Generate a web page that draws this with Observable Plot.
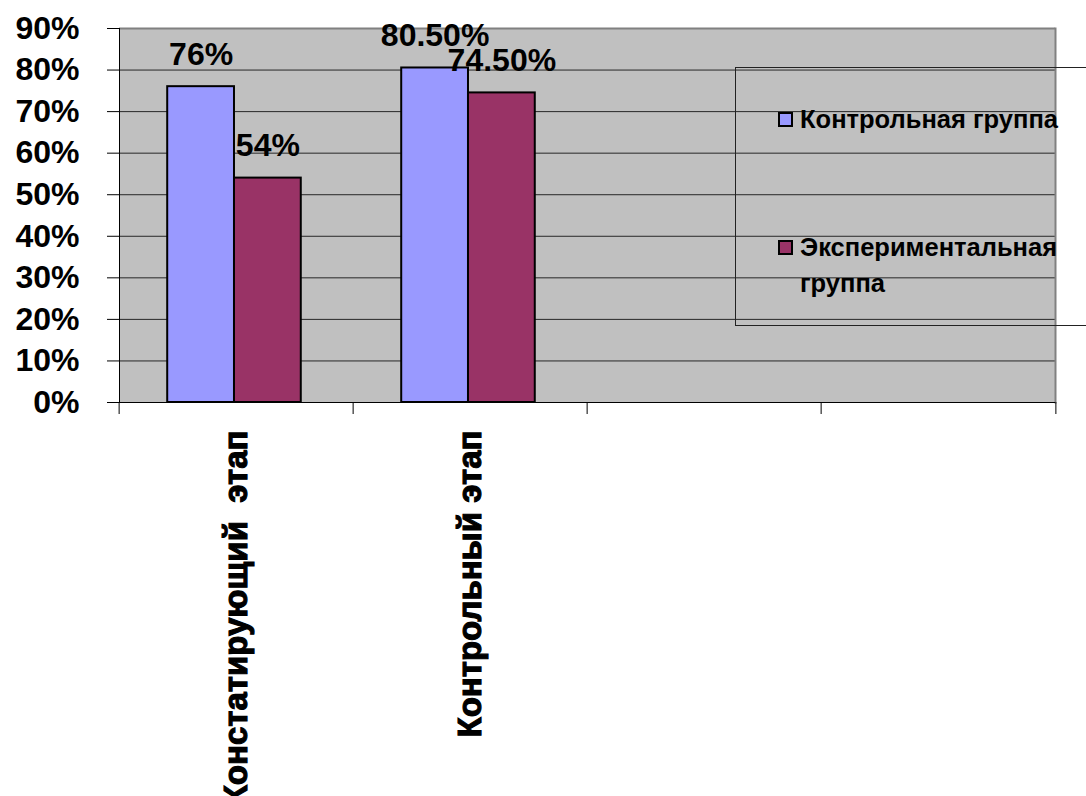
<!DOCTYPE html>
<html>
<head>
<meta charset="utf-8">
<script src="https://cdn.jsdelivr.net/npm/d3@7"></script>
<script src="https://cdn.jsdelivr.net/npm/@observablehq/plot@0.6"></script>
<style>
  body { margin: 0; background: #fff; }
  #wrap { position: relative; width: 1086px; height: 796px; overflow: hidden; font-family: "Liberation Sans", Arial, sans-serif; }
  #legend { position: absolute; left: 735px; top: 67px; width: 360px; height: 259px; border: 1px solid #222; border-right: none; box-sizing: border-box; }
  .item { position: absolute; left: 64px; width: 285px; font-weight: bold; font-size: 25.5px; line-height: 36px; color: #000; }
  .sw { position: absolute; left: -22px; top: 11px; width: 11px; height: 11px; border: 2px solid #000; }
</style>
</head>
<body>
<div id="wrap">
  <div id="chart"></div>
  <div id="legend"></div>
</div>
<script>
// ---- data ----
const categories = ["Констатирующий\u00a0 этап", "Контрольный этап", "", " "];
const series = ["Контрольная группа", "Экспериментальная группа"];
const control = [0.76, 0.805, null, null];
const experimental = [0.54, 0.745, null, null];
const controlLabels = ["76%", "80.50%", "", ""];
const experimentalLabels = ["54%", "74.50%", "", ""];
const yTicks = [0, 0.1, 0.2, 0.3, 0.4, 0.5, 0.6, 0.7, 0.8, 0.9];
const yTickLabels = ["0%", "10%", "20%", "30%", "40%", "50%", "60%", "70%", "80%", "90%"];
const colors = ["#9999FF", "#993366"];

const rows = categories.flatMap((c, i) => [
  {category: c, series: series[0], value: control[i], label: controlLabels[i]},
  {category: c, series: series[1], value: experimental[i], label: experimentalLabels[i]}
]);

const W = 1086, H = 796, mL = 117, mR = 30, mT = 28, mB = 394;
const step = (W - mL - mR) / categories.length;
const font = "Liberation Sans, Arial, sans-serif";

const chart = Plot.plot({
  width: W, height: H,
  marginLeft: mL, marginRight: mR, marginTop: mT, marginBottom: mB,
  style: {fontFamily: font, background: "transparent", color: "#000"},
  fx: {domain: categories, padding: 0, label: null},
  x: {domain: series, paddingInner: 0, paddingOuter: 0.752, align: 0.48, round: false, axis: null},
  y: {domain: [0, 0.9], label: null},
  color: {domain: series, range: colors},
  marks: [
    Plot.frame({fill: "#C0C0C0", stroke: "#C0C0C0"}),
    Plot.gridY(yTicks.filter(t => t > 0 && t < 0.9), {stroke: "#000", strokeOpacity: 0.8}),
    Plot.ruleY([0.9], {stroke: "#808080", strokeWidth: 2}),
    Plot.frame({anchor: "right", facetAnchor: "right", stroke: "#808080", strokeWidth: 2}),
    Plot.barY(rows, {fx: "category", x: "series", y: "value", fill: "series", stroke: "#000", strokeWidth: 2}),
    Plot.frame({anchor: "left", facetAnchor: "left", stroke: "#000"}),
    Plot.ruleY([0], {stroke: "#000"}),
    Plot.axisY({ticks: yTicks, tickFormat: d => yTickLabels[yTicks.indexOf(d)], tickSize: 12, tickPadding: 28, fontSize: 32, fontWeight: "bold", label: null}),
    Plot.axisFx({anchor: "bottom", tickSize: 0, tickRotate: -90, tickPadding: 28, fontSize: 33, fontWeight: "bold", label: null}),
    Plot.axisFx({anchor: "bottom", tickSize: 12, tickFormat: () => "", dx: -step / 2, label: null}),
    Plot.axisFx({anchor: "bottom", ticks: [categories[categories.length - 1]], tickSize: 12, tickFormat: () => "", dx: step / 2, label: null}),
    Plot.text(rows, {fx: "category", x: "series", y: "value", text: "label", dy: -22, lineAnchor: "bottom", fontSize: 32, fontWeight: "bold", fill: "#000"})
  ]
});
document.getElementById("chart").appendChild(chart);
// make the rotated category labels as heavy as the reference
d3.select(chart).selectAll("text")
  .filter(function() { return categories.slice(0, 2).includes(this.textContent); })
  .attr("stroke", "#000").attr("stroke-width", 1.1);

// legend
const legend = document.getElementById("legend");
const tops = [33, 161];
series.forEach((s, i) => {
  const item = document.createElement("div");
  item.className = "item";
  item.style.top = tops[i] + "px";
  const sw = document.createElement("span");
  sw.className = "sw";
  sw.style.background = colors[i];
  item.appendChild(sw);
  item.appendChild(document.createTextNode(s));
  legend.appendChild(item);
});
</script>
</body>
</html>
